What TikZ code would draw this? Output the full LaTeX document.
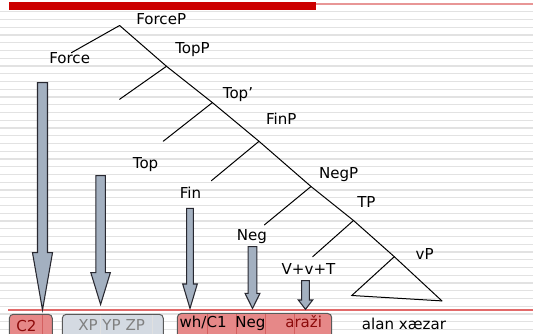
\documentclass[tikz,border=0pt]{standalone}
\usepackage{fontspec}
\setmainfont{DejaVu Sans}

\definecolor{barred}{RGB}{204,0,0}
\definecolor{thinred}{RGB}{232,150,150}
\definecolor{linered}{RGB}{226,106,106}
\definecolor{stripe}{RGB}{226,226,226}
\definecolor{arrowfill}{RGB}{163,176,192}
\definecolor{arrowedge}{RGB}{40,40,48}
\definecolor{cellred}{RGB}{230,136,136}
\definecolor{cellline}{RGB}{212,96,96}
\definecolor{cellgrey}{RGB}{212,218,226}
\definecolor{textred}{RGB}{140,10,10}
\definecolor{textgrey}{RGB}{128,128,128}

\tikzset{
  lbl/.style={inner sep=0pt, anchor=base west, font=\fontsize{11.3}{13}\selectfont},
  branch/.style={line width=0.75pt, black, line cap=round},
  blockarrow/.style={fill=arrowfill, draw=arrowedge, line width=0.8pt, line join=miter},
  redcell/.style={fill=cellred, draw=black!65, line width=0.75pt, rounded corners=3},
  greycell/.style={fill=cellgrey, draw=black!65, line width=0.75pt, rounded corners=3},
  stripeline/.style={draw=stripe, line width=1.1pt},
  celldivider/.style={draw=cellline, line width=0.5pt},
}

% block arrow: centre x, top y, head start y, tip y, shaft half width, head half width
\newcommand\blockarr[6]{%
  \draw[blockarrow] (#1-#5,#2) -- (#1+#5,#2) -- (#1+#5,#3) -- (#1+#6,#3)
    -- (#1,#4) -- (#1-#6,#3) -- (#1-#5,#3) -- cycle;}

\begin{document}
\begin{tikzpicture}[x=0.75pt,y=-0.75pt]
\useasboundingbox (0,0) rectangle (533,334);
\clip (0,0) rectangle (533,334);

% ruled background
\foreach \k in {1,...,42}
  \draw[stripeline] (0,4+7.75*\k) -- (533,4+7.75*\k);
\fill[barred] (8.5,2) rectangle (316,10);
\draw[thinred, line width=1.5pt] (316,4) -- (533,4);
\draw[linered, line width=0.9pt] (8.3,310) -- (533,310);

% tree skeleton
\coordinate (forcep) at (119.6,25.5);
\coordinate (forceE) at (71.4,52.7);
\coordinate (topp)   at (166.5,66.3);
\coordinate (toppE)  at (119.6,99.3);
\coordinate (topb)   at (212.4,102.6);
\coordinate (topbE)  at (163.2,141.3);
\coordinate (finp)   at (259,141.3);
\coordinate (finpE)  at (211.4,180.7);
\coordinate (negp)   at (311,186.5);
\coordinate (negpE)  at (264.4,224.9);
\coordinate (tp)     at (353.5,220.5);
\coordinate (tpE)    at (312.7,256.7);
\coordinate (vp)     at (394.3,256.7);
\coordinate (vpL)    at (351.8,295.5);
\coordinate (vpR)    at (441.9,300.9);

\draw[branch] (forcep) -- (topp) -- (topb) -- (finp) -- (negp) -- (tp) -- (vp) -- (vpR);
\draw[branch] (forcep) -- (forceE);
\draw[branch] (topp) -- (toppE);
\draw[branch] (topb) -- (topbE);
\draw[branch] (finp) -- (finpE);
\draw[branch] (negp) -- (negpE);
\draw[branch] (tp) -- (tpE);
\draw[branch] (vp) -- (vpL) -- (vpR);

% tree labels
\node[lbl] (forcepL) at (136,24.6)   {ForceP};
\node[lbl] (forceL)  at (49,63.7)    {Force};
\node[lbl] (toppL)   at (175,53.5)   {TopP};
\node[lbl] (topbL)   at (222.6,98.7) {Top’};
\node[lbl] (finpL)   at (265.8,124.4){FinP};
\node[lbl] (topL)    at (132.6,168.6){Top};
\node[lbl] (negpL)   at (318.8,178.8){NegP};
\node[lbl] (finL)    at (179.5,198.5){Fin};
\node[lbl] (tpL)     at (357,207.7)  {TP};
\node[lbl] (negL)    at (236.5,240.5){Neg};
\node[lbl] (vvtL)    at (281.4,275)  {V+v+T};
\node[lbl] (vpLbl)   at (415.4,260)  {vP};

% movement arrows
\blockarr{42.5}{82.7}{252.7}{310}{5}{10}
\blockarr{100.6}{175.6}{272.7}{304.5}{4.75}{9.75}
\blockarr{190}{208.3}{284}{308.5}{3.4}{7.3}
\blockarr{252.5}{246.7}{293.3}{308.5}{4.3}{7.5}
\blockarr{305.5}{280.7}{300}{309.3}{3.8}{7.2}

% surface string cells
\draw[redcell] (9.3,314.3) rectangle (52.3,345);
\draw[greycell] (62.3,314.3) rectangle (163.3,345);
\draw[redcell] (177.3,313.5) rectangle (331.7,345);
\foreach \xx in {207,236,265,294}
  \draw[celldivider] (\xx,314.5) -- (\xx,334);
\draw[celldivider] (42.5,315) -- (42.5,334);
\draw[draw=black!12, line width=0.5pt] (100,315) -- (100,334) (152,315) -- (152,334);

\node[lbl, text=textred]  (c2)   at (16,331.7)   {C2};
\node[lbl, text=textgrey] (xyz)  at (78,331)     {XP YP ZP};
\node[lbl]                (wh)   at (179.3,328)  {wh/C1};
\node[lbl]                (negW) at (235,328)    {Neg};
\node[lbl, text=textred]  (arz)  at (285,328)    {araži};
\node[lbl]                (alan) at (361.7,329.8){alan xæzar};
\end{tikzpicture}
\end{document}
